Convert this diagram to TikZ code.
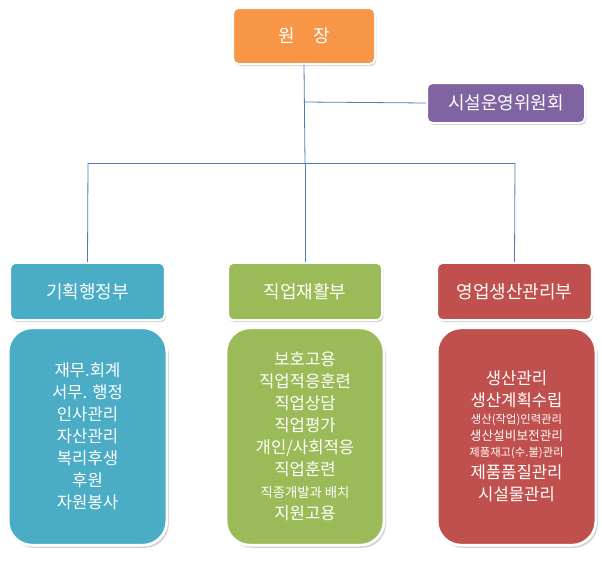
\documentclass[tikz,border=0pt]{standalone}
\usepackage{fontspec}
\setmainfont{Noto Sans CJK KR}
\usetikzlibrary{shadows}
\definecolor{cor}{HTML}{F79646}
\definecolor{cpu}{HTML}{8064A2}
\definecolor{cbl}{HTML}{4BACC6}
\definecolor{cgr}{HTML}{9BBB59}
\definecolor{crd}{HTML}{C0504D}
\definecolor{cln}{HTML}{4A7EBB}
\tikzset{
 hbox/.style={draw=white,line width=1.5pt,rounded corners=4pt,text=white,font=\fontsize{13.5}{16}\selectfont,drop shadow={shadow xshift=1pt,shadow yshift=-1.5pt,opacity=0.35},inner sep=0pt},
 lbox/.style={draw=white,line width=2pt,rounded corners=18pt,text=white,align=center,font=\fontsize{12.5}{16.5}\selectfont,drop shadow={shadow xshift=1.5pt,shadow yshift=-2pt,opacity=0.35},inner sep=0pt},
 conn/.style={draw=cln,line width=0.6pt}
}
\begin{document}
\begin{tikzpicture}[x=0.75pt,y=-0.75pt]
\useasboundingbox (0,0) rectangle (602,564);
\node[hbox,fill=cor,minimum width=106.5pt,minimum height=42pt] (head) at (304,36) {원\quad 장};
\node[hbox,fill=cpu,minimum width=118.5pt,minimum height=30pt] (comm) at (506,103) {시설운영위원회};
\node[hbox,fill=cbl,minimum width=116pt,minimum height=43pt] (d1) at (87.5,291.5) {기획행정부};
\node[hbox,fill=cgr,minimum width=115.5pt,minimum height=43pt] (d2) at (305,291.5) {직업재활부};
\node[hbox,fill=crd,minimum width=116pt,minimum height=43pt] (d3) at (514.5,291.5) {영업생산관리부};
\node[lbox,fill=cbl,minimum width=119pt,minimum height=163pt] (b1) at (87.5,436.5) {재무.회계\\서무. 행정\\인사관리\\자산관리\\복리후생\\후원\\자원봉사};
\node[lbox,fill=cgr,minimum width=118.5pt,minimum height=163pt] (b2) at (305,436.5) {보호고용\\직업적응훈련\\직업상담\\직업평가\\개인/사회적응\\직업훈련\\{\fontsize{10}{16.5}\selectfont 직종개발과 배치}\\지원고용};
\node[lbox,fill=crd,minimum width=119pt,minimum height=163pt] (b3) at (516.5,436.5) {생산관리\\생산계획수립\\[-4pt]{\fontsize{8.5}{12}\selectfont 생산(작업)인력관리}\\[-4pt]{\fontsize{9.5}{12}\selectfont 생산설비보전관리}\\[-4pt]{\fontsize{8.5}{12}\selectfont 제품재고(수.불)관리}\\제품품질관리\\시설물관리};
\coordinate (j) at (305,163);
\draw[conn] (head.south) -- (j);
\draw[conn] (305,102) -- (comm.west);
\draw[conn] (88,163) -- (515,163);
\draw[conn] (88,163) -- (d1.north);
\draw[conn] (j) -- (d2.north);
\draw[conn] (515,163) -- (d3.north);
\end{tikzpicture}
\end{document}
